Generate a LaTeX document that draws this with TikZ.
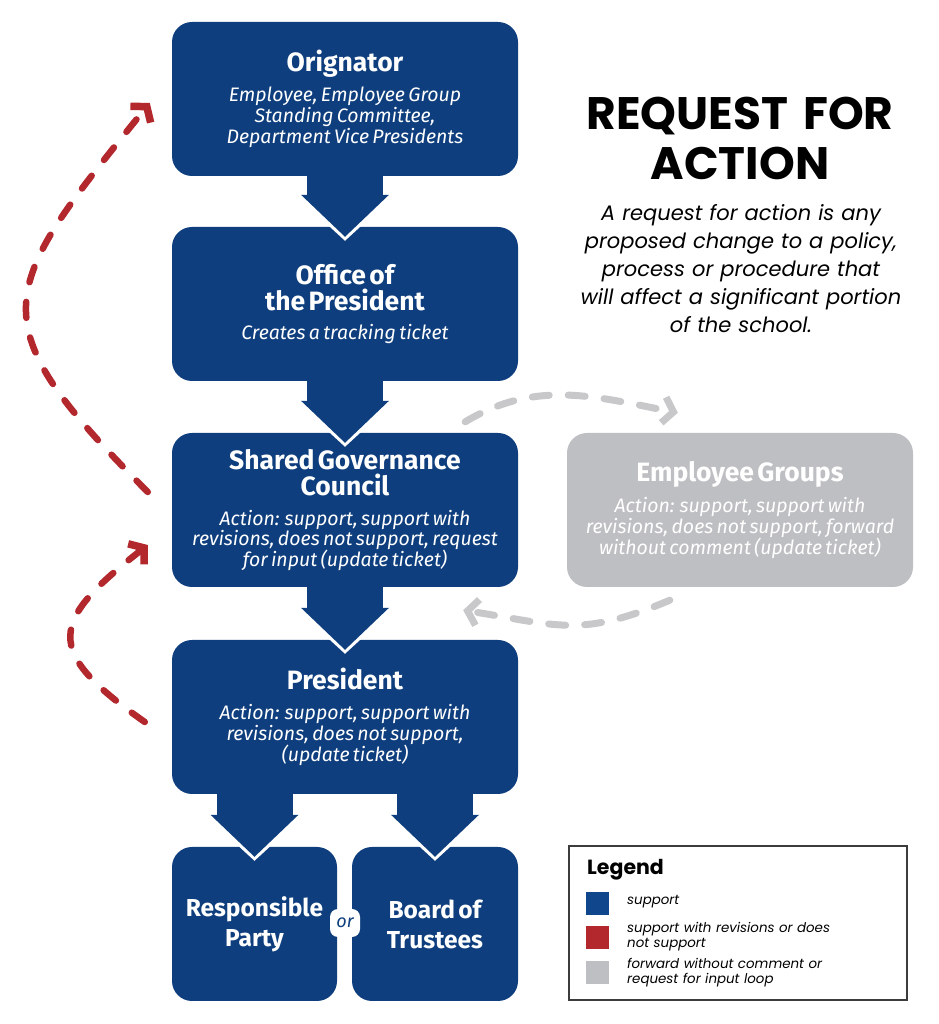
\documentclass[tikz,border=0pt]{standalone}
\usepackage{fontspec}
\setmainfont[WordSpace=1.3]{Fira Sans}
\newfontfamily\headfont{Poppins}
\usetikzlibrary{arrows.meta,calc}
\definecolor{navy}{RGB}{14,62,125}
\definecolor{loopred}{RGB}{178,40,45}
\definecolor{loopgray}{RGB}{200,200,202}
\definecolor{groupgray}{RGB}{190,191,194}
\definecolor{keyblue}{RGB}{16,70,140}
\definecolor{keyframe}{RGB}{60,60,60}
\newcommand{\stagehead}[1]{{\fontsize{26.5}{26}\selectfont\bfseries #1\par}}
\newcommand{\stagenote}[1]{\vspace{9pt}{\fontsize{19.5}{20.8}\selectfont\itshape #1\par}}
\tikzset{
  stage/.style={rectangle, rounded corners=20pt, fill=navy, text=white, minimum width=346pt, minimum height=154pt, text width=340pt, align=center, inner sep=0pt},
  flow/.style={draw=navy, line width=76pt, -{Triangle[length=42pt, width=88pt, line width=0pt]}},
  flowedge/.style={draw=white, line width=76pt, -{Triangle[length=46pt, width=100pt, line width=0pt]}},
  redloop/.style={draw=loopred, line width=6.5pt, line cap=round, dash pattern=on 16pt off 20pt, -{Straight Barb[length=10pt, width=26pt, line width=7.5pt]}},
  grayloop/.style={draw=loopgray, line width=7pt, line cap=round, dash pattern=on 17pt off 19pt, -{Straight Barb[length=10pt, width=26pt]}},
  keybox/.style={rectangle, minimum size=23pt, inner sep=0pt},
  keytext/.style={font=\headfont\itshape\fontsize{13.4}{15}\selectfont, text width=240pt, align=left, inner sep=0pt}
}
\begin{document}
\begin{tikzpicture}[x=1pt,y=1pt]
\useasboundingbox (0,0) rectangle (938,1024);
\node[stage] (orig) at (345,925){\stagehead{Orignator}\stagenote{Employee, Employee Group\\ Standing Committee,\\ Department Vice Presidents}};
\node[stage] (office) at (345,720){\stagehead{Office of\\ the President}\stagenote{Creates a tracking ticket}};
\node[stage] (sgc) at (345,514){\stagehead{Shared Governance\\ Council}\stagenote{Action: support, support with\\ revisions, does not support, request\\ for input (update ticket)}};
\node[stage] (pres) at (345,307){\stagehead{President}\stagenote{Action: support, support with\\ revisions, does not support,\\ (update ticket)}};
\node[stage, minimum width=165pt, text width=165pt] (rp) at (254.5,100){\fontsize{24.5}{30}\selectfont\bfseries Responsible\\ Party\par};
\node[stage, minimum width=166pt, text width=165pt] (board) at (435,100){\fontsize{24.5}{30}\selectfont\bfseries Board of\\ Trustees\par};
\node[stage, fill=groupgray] (eg) at (740,514){\stagehead{Employee Groups}\stagenote{Action: support, support with\\ revisions, does not support, forward\\ without comment (update ticket)}};
\node[fill=white, rounded corners=8pt, minimum width=30pt, minimum height=28pt, inner sep=0pt, text=navy, font=\itshape\fontsize{18}{18}\selectfont] (or) at (345,101){or};
\draw[flowedge] ([yshift=4pt]orig.south) -- ([yshift=-14pt]office.north);
\draw[flow] ([yshift=4pt]orig.south) -- ([yshift=-10pt]office.north);
\draw[flowedge] ([yshift=4pt]office.south) -- ([yshift=-14pt]sgc.north);
\draw[flow] ([yshift=4pt]office.south) -- ([yshift=-10pt]sgc.north);
\draw[flowedge] ([yshift=4pt]sgc.south) -- ([yshift=-14pt]pres.north);
\draw[flow] ([yshift=4pt]sgc.south) -- ([yshift=-10pt]pres.north);
\draw[flowedge] ($(pres.south -| rp.north)+(0,4pt)$) -- ([yshift=-14pt]rp.north);
\draw[flow] ($(pres.south -| rp.north)+(0,4pt)$) -- ([yshift=-10pt]rp.north);
\draw[flowedge] ($(pres.south -| board.north)+(0,4pt)$) -- ([yshift=-14pt]board.north);
\draw[flow] ($(pres.south -| board.north)+(0,4pt)$) -- ([yshift=-10pt]board.north);
\draw[redloop] ([shift={(-24pt,18pt)}]sgc.west) to[out=135, in=231, looseness=1.6] ([shift={(-22pt,-4pt)}]orig.west);
\draw[redloop] ([shift={(-27pt,-5pt)}]pres.west) to[out=145, in=218, looseness=1.8] ([shift={(-24pt,-35pt)}]sgc.west);
\draw[grayloop] ([shift={(-53pt,11pt)}]sgc.north east) to[out=31, in=169, looseness=1] ([shift={(111pt,20pt)}]eg.north west);
\draw[grayloop] ([shift={(103pt,-13pt)}]eg.south west) to[out=203, in=-9, looseness=1.2] ([shift={(-55pt,-23pt)}]sgc.south east);
\node[anchor=north, inner sep=0pt, text width=380pt, align=center, font=\headfont\bfseries\fontsize{45.5}{50}\selectfont] (title) at (740,927){REQUEST FOR\\ ACTION};
\node[anchor=north, inner sep=0pt, text width=380pt, align=center, font=\headfont\itshape\fontsize{21}{28}\selectfont] (blurb) at (741,820){A request for action is any\\ proposed change to a policy,\\ process or procedure that\\ will affect a significant portion\\ of the school.};
\node[draw=keyframe, line width=2pt, minimum width=338pt, minimum height=154pt, inner sep=0pt] (legend) at (738,101){};
\node[anchor=base west, inner sep=0pt, font=\headfont\bfseries\fontsize{20.5}{24}\selectfont] (legendtitle) at (587,149){Legend};
\node[keybox, fill=keyblue] (keysupport) at (597,120){};
\node[keybox, fill=loopred] (keyrevise) at (597,86){};
\node[keybox, fill=groupgray] (keyforward) at (597,51){};
\node[keytext, anchor=base west] (textsupport) at (627,119){support};
\node[keytext, anchor=west] (textrevise) at (627,87){support with revisions or does\\ not support};
\node[keytext, anchor=west] (textforward) at (627,51){forward without comment or\\ request for input loop};
\end{tikzpicture}
\end{document}
